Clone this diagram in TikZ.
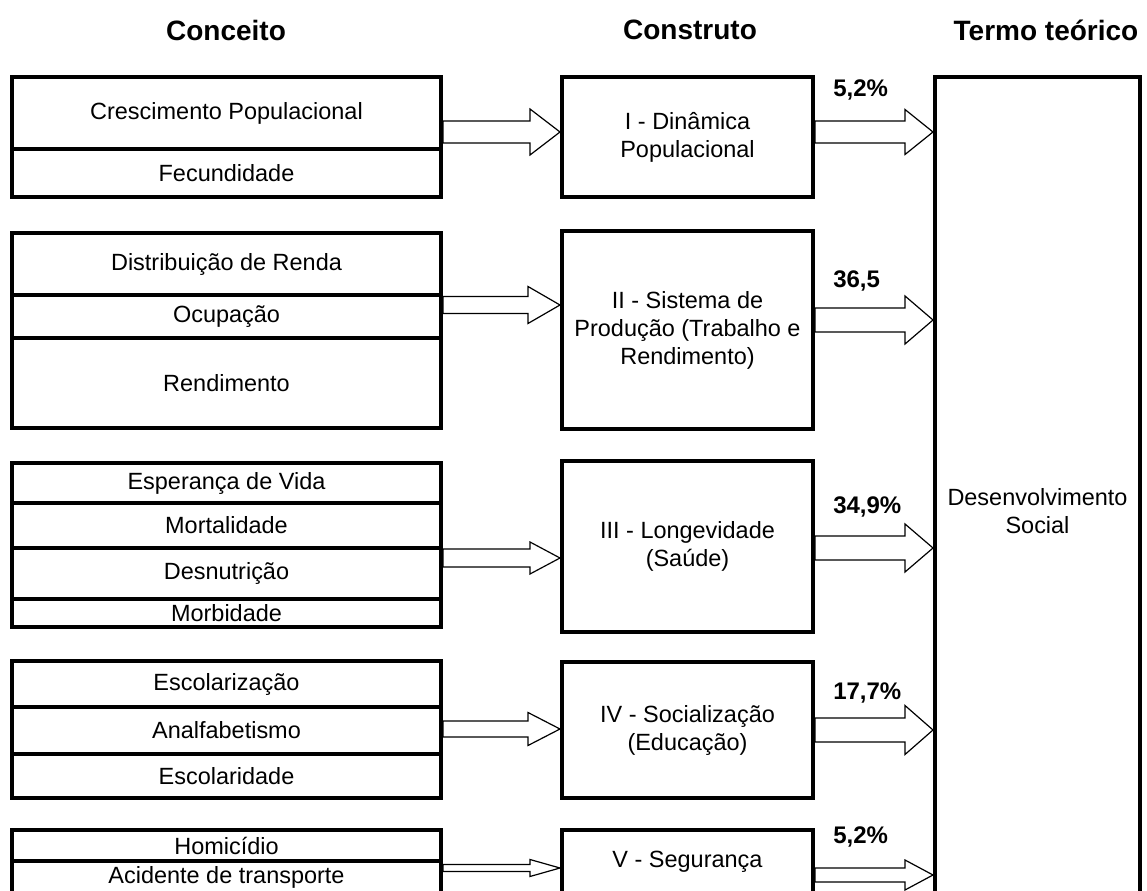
\documentclass[tikz,border=0pt]{standalone}
\usepackage{fontspec}
\setmainfont{Liberation Sans}
\usetikzlibrary{calc}
\pgfdeclarelayer{background}
\pgfsetlayers{background,main}

% one drawing unit = one pixel of the layout grid
\newcommand\pxu{0.75pt}

\tikzset{
  cellbox/.style={draw=black, line width=3pt, inner sep=1pt, align=center,
    font=\fontsize{17.6pt}{21pt}\selectfont},
  headtext/.style={font=\fontsize{21pt}{25pt}\selectfont\bfseries},
  pcttext/.style={anchor=west, inner sep=0pt, font=\fontsize{18pt}{22pt}\selectfont\bfseries},
  blockarr/.style={draw=black, fill=white, line width=0.9pt, line join=miter}
}

% \cell{name}{x1}{y1}{x2}{y2}{text}: a framed box between two corners
\newcommand\cell[6]{%
  \node[cellbox, minimum width={(#4-#2)*0.75pt}, minimum height={(#5-#3)*0.75pt}]
    (#1) at ({(#2+#4)/2},{(#3+#5)/2}) {#6};}

% \blockarrow{from}{to}{tip y}{shaft half width}{head half width}{head length}
\newcommand\blockarrow[6]{%
  \pgfmathsetmacro\ya{#3-#4}\pgfmathsetmacro\yb{#3+#4}%
  \pgfmathsetmacro\yc{#3-#5}\pgfmathsetmacro\yd{#3+#5}%
  \draw[blockarr] (#1.east |- 0,\ya)
    -- ($(#2.west |- 0,\ya)+(-#6,0)$)
    -- ($(#2.west |- 0,\yc)+(-#6,0)$)
    -- (#2.west |- 0,#3)
    -- ($(#2.west |- 0,\yd)+(-#6,0)$)
    -- ($(#2.west |- 0,\yb)+(-#6,0)$)
    -- (#1.east |- 0,\yb) -- cycle;}

\begin{document}
\begin{tikzpicture}[x=0.75pt, y=-0.75pt]
\useasboundingbox (0,0) rectangle (1147,891);
\clip (0,0) rectangle (1147,891);

% column headings
\node[headtext] (hconc) at (226,30) {Conceito};
\node[headtext] (hcons) at (690,30) {Construto};
\node[headtext] (hterm) at (1046,30) {Termo teórico};

% concepts
\cell{c11}{12}{77}{441}{149}{Crescimento Populacional}
\cell{c12}{12}{149}{441}{197}{Fecundidade}

\cell{c21}{12}{233}{441}{295}{Distribuição de Renda}
\cell{c22}{12}{295}{441}{338}{Ocupação}
\cell{c23}{12}{338}{441}{428}{Rendimento}

\cell{c31}{12}{463}{441}{503}{Esperança de Vida}
\cell{c32}{12}{503}{441}{548}{Mortalidade}
\cell{c33}{12}{548}{441}{599}{Desnutrição}
\cell{c34}{12}{599}{441}{627}{Morbidade}

\cell{c41}{12}{661}{441}{707}{Escolarização}
\cell{c42}{12}{707}{441}{754}{Analfabetismo}
\cell{c43}{12}{754}{441}{798}{Escolaridade}

\cell{c51}{12}{830}{441}{861}{Homicídio}
\cell{c52}{12}{861}{441}{893}{Acidente de transporte}

% constructs
\cell{k1}{562}{77}{813}{197}{I - Dinâmica\\Populacional}
\cell{k2}{562}{231}{813}{429}{II - Sistema de\\Produção (Trabalho e\\Rendimento)}
\cell{k3}{562}{461}{813}{632}{III - Longevidade\\(Saúde)}
\cell{k4}{562}{662}{813}{798}{IV - Socialização\\(Educação)}
\cell{k5}{562}{830}{813}{894}{V - Segurança}

% theoretical term
\cell{t}{935}{77}{1140}{945}{Desenvolvimento\\Social}

% block arrows
\begin{pgfonlayer}{background}
\blockarrow{c11}{k1}{132}{11}{23}{30}
\blockarrow{c22}{k2}{305}{8.5}{18.5}{32}
\blockarrow{c33}{k3}{558}{9}{16}{30}
\blockarrow{c42}{k4}{729}{8}{16.5}{32}
\blockarrow{c52}{k5}{868}{3.5}{8.5}{30}

\blockarrow{k1}{t}{132}{11}{22.5}{28}
\blockarrow{k2}{t}{320}{12}{24}{28}
\blockarrow{k3}{t}{548}{12}{24}{28}
\blockarrow{k4}{t}{730}{12}{24.5}{28}
\blockarrow{k5}{t}{875}{7}{15}{28}
\end{pgfonlayer}

% loadings
\node[pcttext] (p1) at (833,90) {5,2\%};
\node[pcttext] (p2) at (833,281) {36,5};
\node[pcttext] (p3) at (833,507) {34,9\%};
\node[pcttext] (p4) at (833,693) {17,7\%};
\node[pcttext] (p5) at (833,837) {5,2\%};
\end{tikzpicture}
\end{document}
